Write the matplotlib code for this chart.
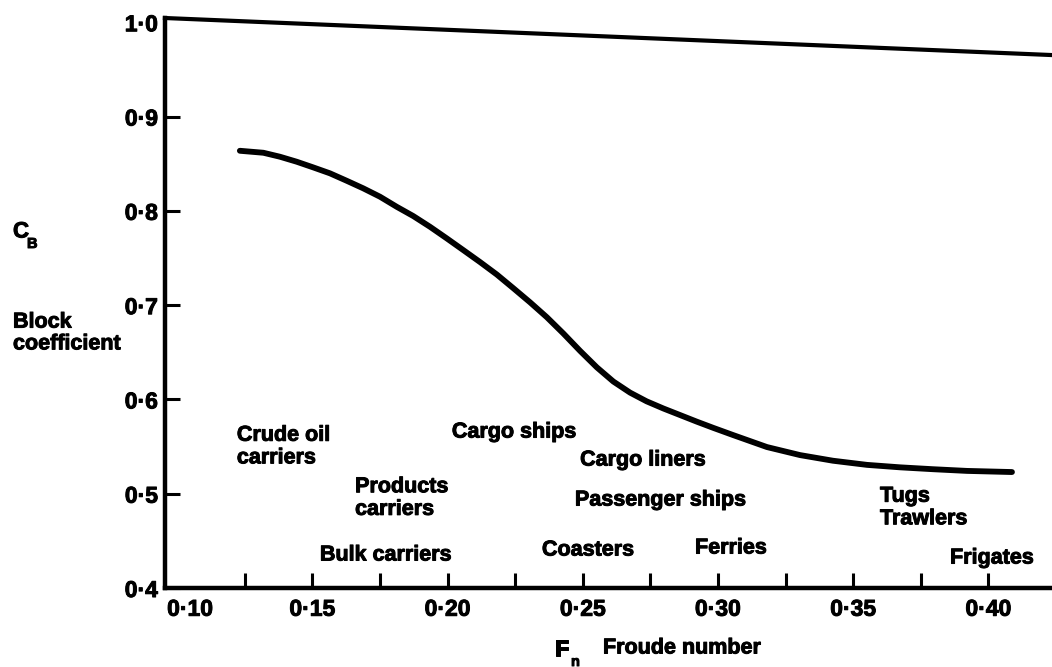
"""
Block coefficient C_B against Froude number F_n, with typical ship types
"""
import matplotlib
matplotlib.use('Agg')
import matplotlib.pyplot as plt
import matplotlib.patheffects as pe
from matplotlib.transforms import ScaledTranslation

plt.rcParams['font.family'] = ['Liberation Sans', 'DejaVu Sans']
plt.rcParams['font.weight'] = 'bold'

# ========== Data ==========
froude = [0.1232, 0.1319, 0.1380, 0.1442, 0.1503, 0.1565, 0.1627, 0.1688,
          0.1750, 0.1812, 0.1873, 0.1935, 0.1997, 0.2058, 0.2120, 0.2182,
          0.2243, 0.2305, 0.2367, 0.2428, 0.2490, 0.2552, 0.2613, 0.2675,
          0.2736, 0.2798, 0.2860, 0.2921, 0.2983, 0.3056, 0.3181, 0.3303,
          0.3425, 0.3551, 0.3673, 0.3795, 0.3921, 0.4087]
block_coeff = [0.8637, 0.8616, 0.8574, 0.8521, 0.8461, 0.8398, 0.8319, 0.8239,
               0.8150, 0.8043, 0.7945, 0.7831, 0.7708, 0.7584, 0.7457, 0.7325,
               0.7180, 0.7030, 0.6872, 0.6700, 0.6515, 0.6340, 0.6190, 0.6072,
               0.5980, 0.5904, 0.5834, 0.5765, 0.5698, 0.5622, 0.5495, 0.5410,
               0.5350, 0.5306, 0.5280, 0.5260, 0.5242, 0.5230]

x_ticks = [0.10, 0.15, 0.20, 0.25, 0.30, 0.35, 0.40]
x_minor = [0.125, 0.175, 0.225, 0.275, 0.325, 0.375]
x_labels = ['0·10', '0·15', '0·20', '0·25', '0·30', '0·35', '0·40']
y_ticks = [0.4, 0.5, 0.6, 0.7, 0.8, 0.9, 1.0]
y_labels = ['0·4', '0·5', '0·6', '0·7', '0·8', '0·9', '1·0']

ship_types = ['Crude oil\ncarriers', 'Cargo ships', 'Cargo liners', 'Products\ncarriers',
              'Passenger ships', 'Bulk carriers', 'Coasters', 'Ferries',
              'Tugs\nTrawlers', 'Frigates']
# label anchor (left, centre) in data units
ship_pos = [(0.1221, 0.550), (0.2016, 0.5654), (0.2490, 0.5357), (0.1658, 0.4954),
            (0.2471, 0.4933), (0.1528, 0.4350), (0.2349, 0.4403), (0.2915, 0.4424),
            (0.3599, 0.4854), (0.3858, 0.4318)]

heavy = [pe.withStroke(linewidth=0.7, foreground='black')]

# ========== Figure ==========
fig = plt.figure(figsize=(10.52, 6.67), dpi=100)
ax = fig.add_axes([0.1568, 0.1184, 0.8432, 0.8546])

ax.plot(froude, block_coeff, color='black', linewidth=4.2,
        solid_capstyle='round', solid_joinstyle='round')

for name, (tx, ty) in zip(ship_types, ship_pos):
    ax.text(tx, ty, name, ha='left', va='center', fontsize=15.5,
            fontweight='bold', linespacing=1.1, path_effects=heavy)

ax.set_xlim(0.0955, 0.4235)
ax.set_ylim(0.4, 1.0045)

ax.set_xticks(x_ticks)
ax.set_xticklabels(x_labels)
ax.set_xticks(x_minor, minor=True)
ax.set_yticks(y_ticks)
ax.set_yticklabels(y_labels)

ax.tick_params(axis='both', which='both', direction='in', width=2.2, length=11,
               labelsize=16.5, pad=5)
ax.tick_params(axis='x', which='both', pad=7)

for lab in ax.get_xticklabels() + ax.get_yticklabels():
    lab.set_fontweight('bold')
    lab.set_path_effects(heavy)

# first x label sits a little right of the spine, no tick mark there
first = ax.xaxis.get_major_ticks()[0]
first.tick1line.set_visible(False)
first.label1.set_transform(first.label1.get_transform()
                           + ScaledTranslation(0.13, 0, fig.dpi_scale_trans))
# top y tick hidden under the frame corner
ax.yaxis.get_major_ticks()[-1].tick1line.set_visible(False)

for side in ['top', 'right']:
    ax.spines[side].set_visible(False)
for side in ['left', 'bottom']:
    ax.spines[side].set_linewidth(3.2)

# skewed top frame line
ax.plot([0, 1], [1.0, 0.935], transform=ax.transAxes, color='black',
        linewidth=3.0, clip_on=False)

# axis titles
fig.text(13 / 1052, 1 - 232 / 667, 'C', fontsize=16, fontweight='bold', ha='left', va='center',
         path_effects=heavy)
fig.text(27 / 1052, 1 - 244 / 667, 'B', fontsize=10.5, fontweight='bold', ha='left', va='center',
         path_effects=heavy)
fig.text(13 / 1052, 1 - 333 / 667, 'Block\ncoefficient', fontsize=15.5, fontweight='bold',
         ha='left', va='center', linespacing=1.05, path_effects=heavy)
fig.text(555 / 1052, 1 - 650 / 667, 'F', fontsize=16, fontweight='bold', ha='left', va='center',
         path_effects=heavy)
fig.text(571 / 1052, 1 - 662 / 667, 'n', fontsize=10.5, fontweight='bold', ha='left', va='center',
         path_effects=heavy)
fig.text(603 / 1052, 1 - 648 / 667, 'Froude number', fontsize=15.5, fontweight='bold',
         ha='left', va='center', path_effects=heavy)

fig.savefig('out.png', dpi=100, facecolor='white')
